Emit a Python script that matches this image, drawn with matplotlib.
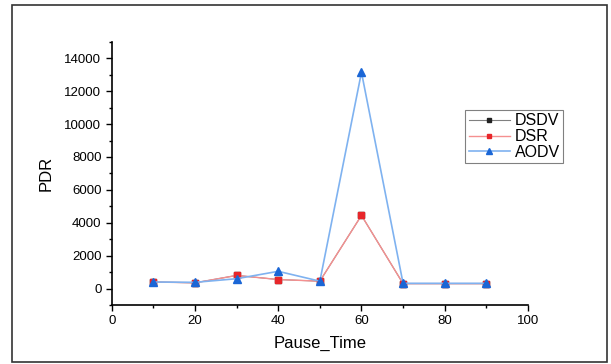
import matplotlib
matplotlib.use('Agg')
import matplotlib.pyplot as plt
from matplotlib.ticker import MultipleLocator
from matplotlib.patches import Rectangle

# data
pause_time = [10, 20, 30, 40, 50, 60, 70, 80, 90]
dsdv = [400, 350, 800, 550, 450, 4450, 300, 300, 300]
dsr = [400, 350, 800, 550, 450, 4450, 300, 300, 300]
aodv = [400, 380, 600, 1050, 450, 13150, 320, 320, 320]

plt.rcParams['font.family'] = ['Liberation Sans', 'DejaVu Sans']

fig = plt.figure(figsize=(6.11, 3.64), dpi=100, facecolor='w')
ax = fig.add_axes([0.183, 0.162, 0.681, 0.723])

ax.plot(pause_time, dsdv, color='#808080', lw=0.8, marker='s', ms=4,
        mfc='#222222', mec='#222222', label='DSDV')
ax.plot(pause_time, dsr, color='#f59090', lw=1.0, marker='s', ms=5,
        mfc='#e8262a', mec='#e8262a', label='DSR')
ax.plot(pause_time, aodv, color='#7fb2f0', lw=1.2, marker='^', ms=6,
        mfc='#1a66d6', mec='#1a66d6', label='AODV')

ax.set_xlim(0, 100)
ax.set_ylim(-1000, 15000)
ax.xaxis.set_major_locator(MultipleLocator(20))
ax.xaxis.set_minor_locator(MultipleLocator(10))
ax.yaxis.set_major_locator(MultipleLocator(2000))
ax.yaxis.set_minor_locator(MultipleLocator(1000))
ax.set_yticks(range(0, 14001, 2000))

for s in ['top', 'right']:
    ax.spines[s].set_visible(False)
for s in ['left', 'bottom']:
    ax.spines[s].set_linewidth(1.2)
ax.tick_params(which='major', direction='out', length=4, width=1, labelsize=9.5)
ax.tick_params(which='minor', direction='out', length=2, width=1)

ax.set_xlabel('Pause_Time', fontsize=12, labelpad=6)
ax.set_ylabel('PDR', fontsize=12, labelpad=8)

leg = ax.legend(loc='upper left', bbox_to_anchor=(0.850, 0.74), fontsize=11.5,
                frameon=True, fancybox=False, edgecolor='#606060',
                handlelength=2.6, borderpad=0.2, labelspacing=0.05,
                handletextpad=0.3, borderaxespad=0, markerscale=0.7)
leg.get_frame().set_linewidth(0.8)

# outer border around the picture
fig.patches.append(Rectangle((12 / 611, 1 - 362 / 364), 595 / 611, 357 / 364,
                             transform=fig.transFigure, fill=False,
                             edgecolor='#333333', lw=1.2))

plt.savefig('out.png', dpi=100)
